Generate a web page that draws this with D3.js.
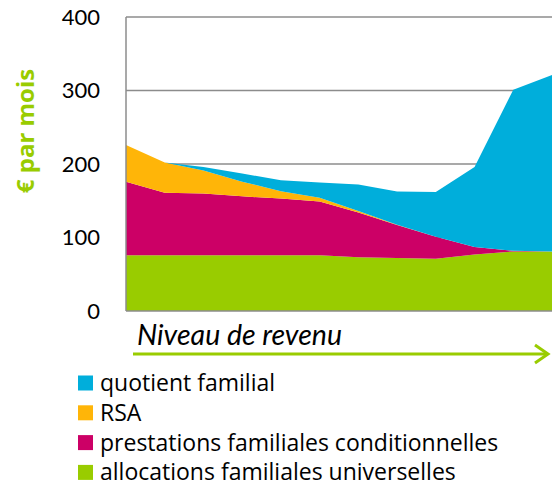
<!DOCTYPE html>
<html>
<head>
<meta charset="utf-8">
<script src="https://cdn.jsdelivr.net/npm/d3@7"></script>
<style>
html,body{margin:0;padding:0;background:#fff;}
svg{display:block;font-family:Lato, "Open Sans", sans-serif;}
</style>
</head>
<body>
<svg id="chart" width="559" height="490"></svg>
<script>
// Data
const levels = [0,1,2,3,4,5,6,7,8,9,10,11];
const allocations = [76,76,76,76,76,76,73,72,71,77,81,81];
const prestations = [100,85,84,80,77,73,61,45,30,10,1,0];
const rsa = [50,41,31,20,10,5,2,0.5,0,0,0,0];
const quotient = [0,0,5,11,15,21,36,45,61,109,219,240];
const yTicks = [0,100,200,300,400];
const seriesKeys = ["allocations","prestations","rsa","quotient"];
const seriesNames = {
  quotient:"quotient familial",
  rsa:"RSA",
  prestations:"prestations familiales conditionnelles",
  allocations:"allocations familiales universelles"
};
const colors = {allocations:"#99CC00", prestations:"#CC0066", rsa:"#FFB508", quotient:"#00AEDB"};
const legendOrder = ["quotient","rsa","prestations","allocations"];

const table = levels.map((l,i)=>({level:l, allocations:allocations[i], prestations:prestations[i], rsa:rsa[i], quotient:quotient[i]}));

const svg = d3.select("#chart");
const x = d3.scaleLinear().domain([0,11]).range([126,552]);
const y = d3.scaleLinear().domain([0,400]).range([311,17]);

// gridlines
svg.append("g").selectAll("line").data(yTicks.filter(t=>t>0)).join("line")
  .attr("x1",x(0)).attr("x2",x(11)).attr("y1",d=>y(d)).attr("y2",d=>y(d))
  .attr("stroke","#8c8c8c").attr("stroke-width",1.5);

const stack = d3.stack().keys(seriesKeys)(table);
const area = d3.area().x(d=>x(d.data.level)).y0(d=>y(d[0])).y1(d=>y(d[1]));
svg.append("g").selectAll("path").data(stack).join("path")
  .attr("d",area).attr("fill",d=>colors[d.key]);

// axis lines
svg.append("line").attr("x1",x(0)).attr("x2",x(0)).attr("y1",y(400)).attr("y2",y(0))
  .attr("stroke","#8c8c8c").attr("stroke-width",1.5);
svg.append("line").attr("x1",x(0)).attr("x2",x(11)).attr("y1",y(0)).attr("y2",y(0))
  .attr("stroke","#8c8c8c").attr("stroke-width",1.5);

const yAxis = svg.append("g").attr("transform",`translate(${x(0)},0)`)
  .call(d3.axisLeft(y).tickValues(yTicks).tickSize(0).tickPadding(26));
yAxis.select(".domain").remove();
yAxis.selectAll("text").attr("font-family","Lato, sans-serif").attr("font-size",22).attr("fill","#000");

// y label
svg.append("text").attr("transform","translate(34,131) rotate(-90)")
  .attr("text-anchor","middle").attr("font-family","'Open Sans', sans-serif")
  .attr("font-size",24).attr("font-weight","bold")
  .attr("fill","#99CC00").text("€ par mois");

// x label + arrow
svg.append("text").attr("x",137).attr("y",345).attr("font-size",28.5).attr("font-style","italic")
  .attr("fill","#000").text("Niveau de revenu");
svg.append("line").attr("x1",133).attr("x2",547).attr("y1",354).attr("y2",354)
  .attr("stroke","#99CC00").attr("stroke-width",3);
svg.append("path").attr("d","M535,345 L548,354 L535,363").attr("fill","none")
  .attr("stroke","#99CC00").attr("stroke-width",3);

// legend
const lg = svg.append("g").selectAll("g").data(legendOrder).join("g")
  .attr("transform",(d,i)=>`translate(78,${383+i*29.8})`);
lg.append("rect").attr("x",0).attr("y",-7.5).attr("width",15).attr("height",15).attr("fill",d=>colors[d]);
lg.append("text").attr("x",22).attr("y",0).attr("dy","0.35em").attr("font-size",23)
  .attr("font-family","'Open Sans', sans-serif")
  .attr("fill","#000").text(d=>seriesNames[d]);
</script>
</body>
</html>
